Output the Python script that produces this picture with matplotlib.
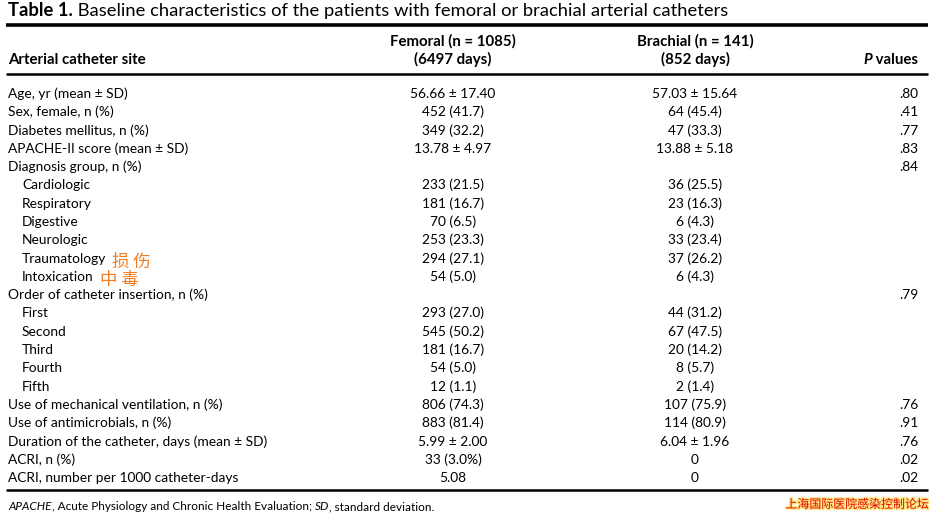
import matplotlib
matplotlib.use("Agg")
import matplotlib.pyplot as plt
import matplotlib.patheffects as pe

plt.rcParams['font.family'] = ['Lato', 'DejaVu Sans']

W, H = 933, 515

row_labels = [
    "Age, yr (mean \u00b1 SD)", "Sex, female, n (%)", "Diabetes mellitus, n (%)",
    "APACHE-II score (mean \u00b1 SD)", "Diagnosis group, n (%)",
    "Cardiologic", "Respiratory", "Digestive", "Neurologic", "Traumatology", "Intoxication",
    "Order of catheter insertion, n (%)",
    "First", "Second", "Third", "Fourth", "Fifth",
    "Use of mechanical ventilation, n (%)", "Use of antimicrobials, n (%)",
    "Duration of the catheter, days (mean \u00b1 SD)", "ACRI, n (%)",
    "ACRI, number per 1000 catheter-days",
]
indented = [0, 0, 0, 0, 0, 1, 1, 1, 1, 1, 1, 0, 1, 1, 1, 1, 1, 0, 0, 0, 0, 0]
femoral = [
    "56.66 \u00b1 17.40", "452 (41.7)", "349 (32.2)", "13.78 \u00b1 4.97", "",
    "233 (21.5)", "181 (16.7)", "70 (6.5)", "253 (23.3)", "294 (27.1)", "54 (5.0)", "",
    "293 (27.0)", "545 (50.2)", "181 (16.7)", "54 (5.0)", "12 (1.1)",
    "806 (74.3)", "883 (81.4)", "5.99 \u00b1 2.00", "33 (3.0%)", "5.08",
]
brachial = [
    "57.03 \u00b1 15.64", "64 (45.4)", "47 (33.3)", "13.88 \u00b1 5.18", "",
    "36 (25.5)", "23 (16.3)", "6 (4.3)", "33 (23.4)", "37 (26.2)", "6 (4.3)", "",
    "44 (31.2)", "67 (47.5)", "20 (14.2)", "8 (5.7)", "2 (1.4)",
    "107 (75.9)", "114 (80.9)", "6.04 \u00b1 1.96", "0", "0",
]
p_values = [".80", ".41", ".77", ".83", ".84", "", "", "", "", "", "", ".79",
            "", "", "", "", "", ".76", ".91", ".76", ".02", ".02"]
cn_notes = {"Traumatology": "损 伤", "Intoxication": "中 毒"}

fig = plt.figure(figsize=(W / 100, H / 100), dpi=100)
ax = fig.add_axes([0, 0, 1, 1])
ax.set_xlim(0, W)
ax.set_ylim(H, 0)
ax.axis("off")
fig.canvas.draw()
renderer = fig.canvas.get_renderer()


def runs(x, y, pieces, size):
    # pieces: list of (text, weight, style)
    for txt, weight, style in pieces:
        t = ax.text(x, y, txt, fontsize=size, fontweight=weight, fontstyle=style,
                    ha="left", va="baseline", color="black")
        bb = t.get_window_extent(renderer)
        x += bb.width


fs = 9.9
hfs = 10.8
# title
runs(8, 16, [("Table 1.", "bold", "normal"),
             (" Baseline characteristics of the patients with femoral or brachial arterial catheters",
              "normal", "normal")], 13.2)

ax.plot([6, 928], [25, 25], color="black", lw=2.6, solid_capstyle="butt")

x_fem, x_bra, x_p = 453, 695, 918
ax.text(x_fem, 46, "Femoral (n = 1085)", fontsize=hfs, fontweight="bold", ha="center", va="baseline")
ax.text(x_bra, 46, "Brachial (n = 141)", fontsize=hfs, fontweight="bold", ha="center", va="baseline")
ax.text(8, 64, "Arterial catheter site", fontsize=hfs, fontweight="bold", ha="left", va="baseline")
ax.text(x_fem, 64, "(6497 days)", fontsize=hfs, fontweight="bold", ha="center", va="baseline")
ax.text(x_bra, 64, "(852 days)", fontsize=hfs, fontweight="bold", ha="center", va="baseline")
t = ax.text(x_p, 64, " values", fontsize=hfs, fontweight="bold", ha="right", va="baseline")
bb = t.get_window_extent(renderer)
ax.text(bb.x0, 64, "P", fontsize=hfs, fontweight="bold", fontstyle="italic", ha="right", va="baseline")

ax.plot([6, 928], [74, 74], color="black", lw=1.8, solid_capstyle="butt")

y0, dy = 98, 18.29
for i, lab in enumerate(row_labels):
    y = y0 + i * dy
    x = 22 if indented[i] else 8
    t = ax.text(x, y, lab, fontsize=fs, ha="left", va="baseline")
    ax.text(x_fem, y, femoral[i], fontsize=fs, ha="center", va="baseline")
    ax.text(x_bra, y, brachial[i], fontsize=fs, ha="center", va="baseline")
    ax.text(x_p, y, p_values[i], fontsize=fs, ha="right", va="baseline")
    if lab in cn_notes:
        bb = t.get_window_extent(renderer)
        ax.text(bb.x1 + 6, y + 4, cn_notes[lab], fontsize=12.5, color="#f07d22",
                family=["Noto Sans CJK SC"], ha="left", va="baseline")

ax.plot([6, 928], [490, 490], color="black", lw=1.8, solid_capstyle="butt")

runs(8, 510, [("APACHE", "normal", "italic"),
              (", Acute Physiology and Chronic Health Evaluation; ", "normal", "normal"),
              ("SD", "normal", "italic"),
              (", standard deviation.", "normal", "normal")], 8.5)

ax.text(928, 508, "上海国际医院感染控制论坛", fontsize=8.6, color="#e00000",
        family=["Noto Sans CJK SC"], ha="right", va="baseline",
        path_effects=[pe.withStroke(linewidth=2, foreground="#ffe680")])

fig.savefig("out.png", dpi=100)
